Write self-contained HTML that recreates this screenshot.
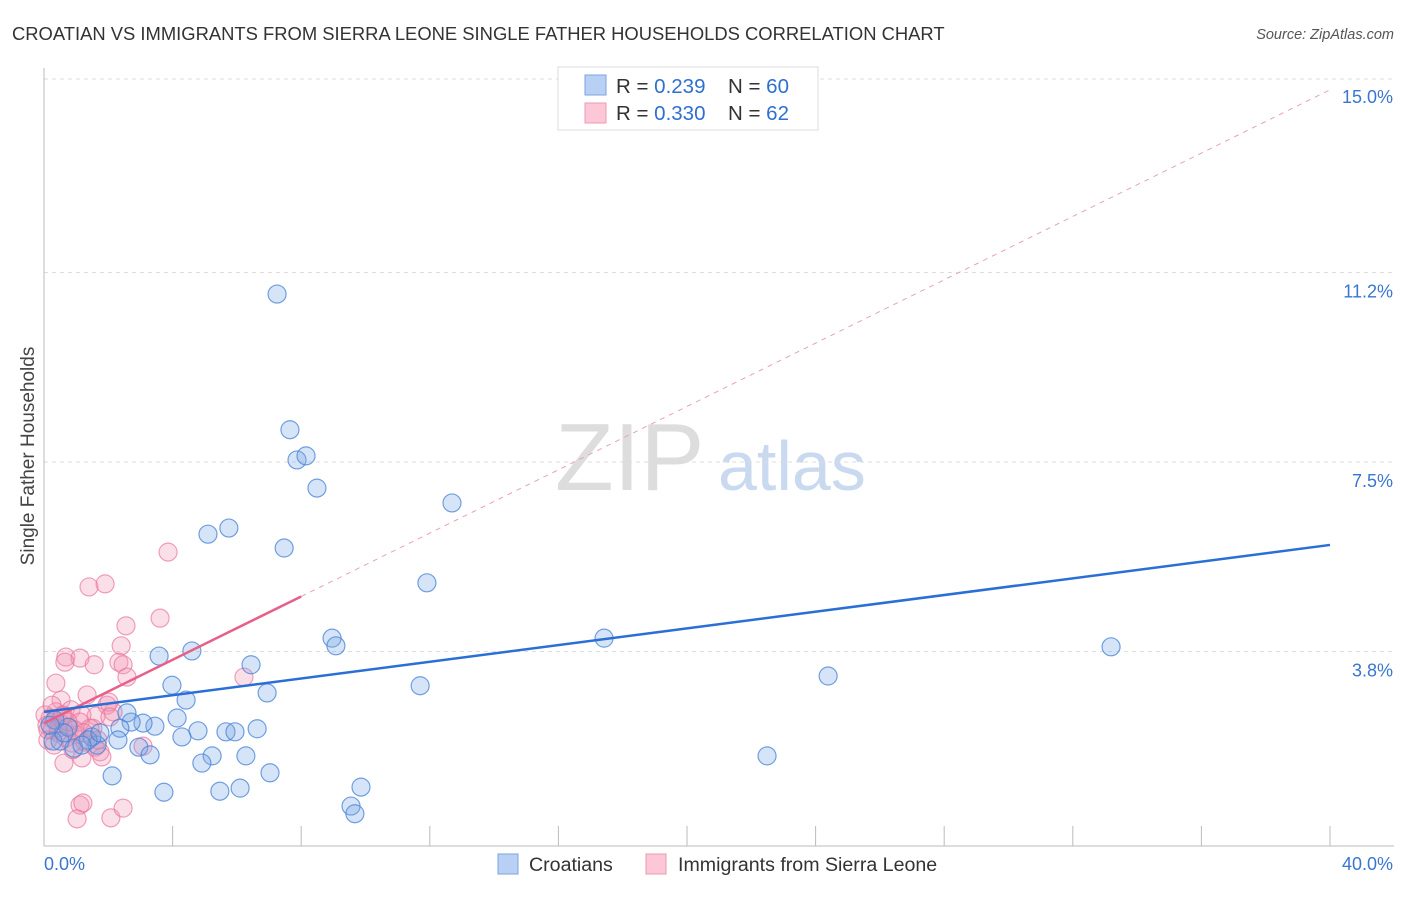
<!DOCTYPE html>
<html><head><meta charset="utf-8"><style>
body{margin:0;background:#fff;font-family:"Liberation Sans",sans-serif;}
svg text{font-family:"Liberation Sans",sans-serif;}
</style></head><body>
<svg id="chart" width="1406" height="892">
<text x="12" y="40" font-size="18.4" fill="#333">CROATIAN VS IMMIGRANTS FROM SIERRA LEONE SINGLE FATHER HOUSEHOLDS CORRELATION CHART</text>
<text x="1394" y="39" font-size="14.5" fill="#555" font-style="italic" text-anchor="end">Source: ZipAtlas.com</text>
<text transform="translate(34,456) rotate(-90)" font-size="19" fill="#444" text-anchor="middle">Single Father Households</text>
<g>
<text x="555" y="490" font-size="96" fill="#ddd" font-family="Liberation Serif">ZIP</text>
<text x="718" y="490" font-size="70" fill="#c9d9f0">atlas</text>
</g>
<g id="grid"></g>
<g id="axes"></g>
<g id="pinkpts"></g>
<g id="bluepts"></g>
<g id="lines"></g>
<g>
<rect x="558" y="67" width="260" height="63" fill="#fff" stroke="#ddd"/>
<rect x="585" y="75" width="21" height="20" fill="#b8d0f4" stroke="#7aa3e0"/>
<rect x="585" y="103" width="21" height="20" fill="#fcc8d8" stroke="#ec9ab4"/>
<text x="616" y="93" font-size="20.5" fill="#333">R = <tspan fill="#2f6fd0">0.239</tspan></text>
<text x="728" y="93" font-size="20.5" fill="#333">N = <tspan fill="#2f6fd0">60</tspan></text>
<text x="616" y="120" font-size="20.5" fill="#333">R = <tspan fill="#2f6fd0">0.330</tspan></text>
<text x="728" y="120" font-size="20.5" fill="#333">N = <tspan fill="#2f6fd0">62</tspan></text>
</g>
<g>
<rect x="498" y="854" width="20" height="20" fill="#b8d0f4" stroke="#7aa3e0"/>
<text x="529" y="871" font-size="19.6" fill="#333">Croatians</text>
<rect x="646" y="854" width="20" height="20" fill="#fcc8d8" stroke="#ec9ab4"/>
<text x="678" y="871" font-size="19.6" fill="#333">Immigrants from Sierra Leone</text>
</g>
</svg>
<script>
const yTicks=[3.8,7.5,11.2,15.0];
const yTickLabels=["3.8%","7.5%","11.2%","15.0%"];
const xTicks=[0,4,8,12,16,20,24,28,32,36,40];
const blueX=[7.25,7.65,7.87,8.15,8.49,12.69,5.75,5.10,7.47,11.91,8.96,9.08,17.42,33.19,24.39,11.70,4.60,3.58,6.44,3.98,4.42,6.94,4.14,4.79,5.66,5.94,6.63,4.29,3.45,3.08,2.71,2.58,2.36,2.30,2.95,3.30,5.23,6.28,4.91,22.49,7.03,2.12,3.73,5.47,6.10,9.86,9.55,9.67,1.65,1.49,0.93,0.50,0.28,0.75,1.37,0.34,1.74,1.18,0.62,0.19];
const blueY=[10.78,8.13,7.54,7.62,6.99,6.70,6.21,6.09,5.82,5.14,4.06,3.91,4.06,3.89,3.32,3.13,3.81,3.71,3.54,3.14,2.85,2.99,2.50,2.25,2.23,2.23,2.29,2.13,2.34,2.40,2.42,2.60,2.30,2.07,1.93,1.78,1.76,1.76,1.62,1.76,1.43,1.37,1.05,1.07,1.13,1.15,0.78,0.63,1.97,2.13,1.91,2.05,2.05,2.32,2.07,2.46,2.21,1.97,2.21,2.36];
const pinkX=[3.86,1.40,1.90,3.61,2.55,2.40,0.68,1.12,0.65,1.56,2.33,2.46,2.58,6.22,0.37,1.34,0.53,0.84,1.62,1.18,1.96,0.37,0.19,0.50,0.81,1.12,1.52,0.25,0.03,0.09,0.44,0.68,1.00,1.28,1.59,1.74,0.62,1.18,3.08,2.15,2.02,0.59,0.96,0.12,0.31,1.43,0.87,2.05,0.25,0.90,1.68,0.44,0.75,1.24,1.12,1.21,1.03,2.08,2.46,1.80,0.56,0.12];
const pinkY=[5.74,5.06,5.12,4.45,4.30,3.91,3.69,3.67,3.59,3.54,3.59,3.54,3.30,3.30,3.18,2.95,2.85,2.66,2.54,2.56,2.75,2.62,2.50,2.40,2.30,2.42,2.30,2.27,2.56,2.36,2.21,2.11,2.17,2.03,1.93,1.84,1.62,1.72,1.95,2.62,2.81,2.56,2.27,2.07,1.97,2.30,2.01,2.52,2.75,1.88,2.07,2.30,2.42,2.21,0.80,0.84,0.53,0.55,0.74,1.74,2.54,2.27];
const blueTrend=[2.62,5.88];
const pinkTrend=[2.40,14.77];
const pinkSolidEnd=8;

const NS="http://www.w3.org/2000/svg";
const X0=44,X1=1330,Y0=846,PXPER=51.2;
function sx(v){return X0+(X1-X0)*v/40;}
function sy(v){return Y0-v*PXPER;}
function mk(tag,attrs,parent){const e=document.createElementNS(NS,tag);for(const k in attrs)e.setAttribute(k,attrs[k]);parent.appendChild(e);return e;}
const grid=document.getElementById('grid'),axes=document.getElementById('axes');
yTicks.forEach((t,i)=>{
 const l=mk('line',{x1:X0,x2:1394,y1:sy(t===15.0?14.98:t),y2:sy(t===15.0?14.98:t),stroke:'#ddd','stroke-dasharray':'4,4'},grid);
 
 
 const tx=mk('text',{x:1393,y:sy(t)+25,'font-size':18,fill:'#3a76d0','text-anchor':'end'},axes);
 tx.textContent=yTickLabels[i];
 
 
});
const ax=mk('line',{x1:X0,x2:X0,y1:68,y2:846,stroke:'#bbb'},axes);


const bx=mk('line',{x1:X0,x2:1394,y1:846,y2:846,stroke:'#bbb'},axes);


xTicks.forEach(t=>{
 const l=mk('line',{x1:sx(t),x2:sx(t),y1:826,y2:846,stroke:'#bbb'},axes);
 
 
});
const xl0=mk('text',{x:44,y:870,'font-size':18,fill:'#3a76d0'},axes);xl0.textContent='0.0%';


const xl1=mk('text',{x:1393,y:870,'font-size':18,fill:'#3a76d0','text-anchor':'end'},axes);xl1.textContent='40.0%';


const pg=document.getElementById('pinkpts');
pinkX.forEach((v,i)=>{
 const c=mk('circle',{cx:sx(v),cy:sy(pinkY[i]),r:9,fill:'rgba(242,150,180,0.3)',stroke:'rgba(232,120,160,0.7)','stroke-width':1.2},pg);
 
 
});
const bg=document.getElementById('bluepts');
blueX.forEach((v,i)=>{
 const c=mk('circle',{cx:sx(v),cy:sy(blueY[i]),r:9,fill:'rgba(120,165,230,0.3)',stroke:'rgba(70,130,215,0.75)','stroke-width':1.2},bg);
 
 
});
const lg=document.getElementById('lines');
const pAt=x=>pinkTrend[0]+(pinkTrend[1]-pinkTrend[0])*x/40;
const d=mk('line',{x1:sx(pinkSolidEnd),y1:sy(pAt(pinkSolidEnd)),x2:sx(40),y2:sy(pinkTrend[1]),stroke:'#eaa0b8','stroke-width':1,'stroke-dasharray':'5,5'},lg);


const ps=mk('line',{x1:sx(0),y1:sy(pinkTrend[0]),x2:sx(pinkSolidEnd),y2:sy(pAt(pinkSolidEnd)),stroke:'#e8608a','stroke-width':2.5},lg);


const bl=mk('line',{x1:sx(0),y1:sy(blueTrend[0]),x2:sx(40),y2:sy(blueTrend[1]),stroke:'#2a6fd6','stroke-width':2.5},lg);


</script>
</body></html>
